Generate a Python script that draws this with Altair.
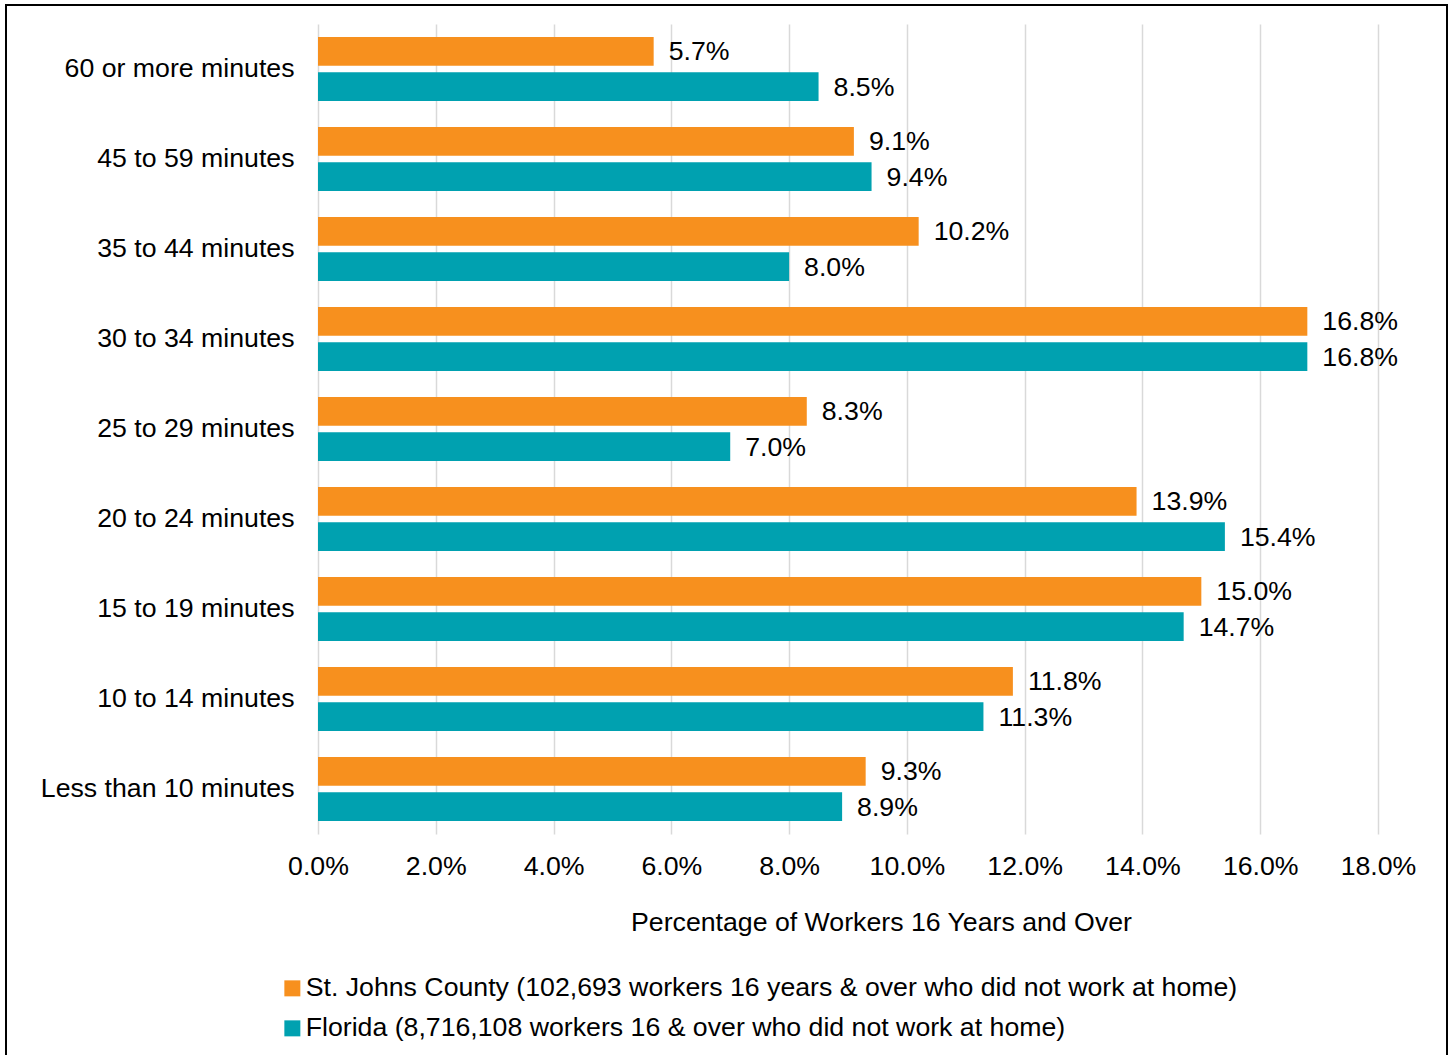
import altair as alt
import pandas as pd

categories = ["60 or more minutes", "45 to 59 minutes", "35 to 44 minutes",
              "30 to 34 minutes", "25 to 29 minutes", "20 to 24 minutes",
              "15 to 19 minutes", "10 to 14 minutes", "Less than 10 minutes"]
series_names = ["St. Johns County (102,693 workers 16 years & over who did not work at home)",
                "Florida (8,716,108 workers 16 & over who did not work at home)"]
st_johns = [5.7, 9.1, 10.2, 16.8, 8.3, 13.9, 15.0, 11.8, 9.3]
florida = [8.5, 9.4, 8.0, 16.8, 7.0, 15.4, 14.7, 11.3, 8.9]
colors = ["#F7901E", "#00A1B0"]

rows = []
for i, c in enumerate(categories):
    rows.append({"cat": c, "series": series_names[0], "val": st_johns[i], "ord": 0})
    rows.append({"cat": c, "series": series_names[1], "val": florida[i], "ord": 1})
df = pd.DataFrame(rows)
df["label"] = df["val"].map(lambda v: f"{v:.1f}%")

FONT = "Liberation Sans"
FS = 26.7

y_enc = alt.Y("cat:N", sort=categories, title=None,
              scale=alt.Scale(paddingInner=0.29, paddingOuter=0.145),
              axis=alt.Axis(ticks=False, domain=False, labelFontSize=FS,
                            labelColor="#000000", labelPadding=24, labelFont=FONT,
                            labelLimit=400))
yoff = alt.YOffset("ord:O", scale=alt.Scale(paddingInner=0.18))
color_enc = alt.Color("series:N", sort=series_names,
                      scale=alt.Scale(domain=series_names, range=colors),
                      legend=alt.Legend(title=None, orient="none", legendX=-39, legendY=951,
                                        direction="vertical", symbolType="square",
                                        symbolSize=256, symbolStrokeWidth=0,
                                        labelFontSize=FS, labelFont=FONT, labelColor="#000000",
                                        labelOffset=0, rowPadding=12, padding=0,
                                        labelLimit=1200))

x_enc = alt.X("val:Q", title="Percentage of Workers 16 Years and Over",
              scale=alt.Scale(domain=[0, 18], nice=False),
              axis=alt.Axis(values=[0, 2, 4, 6, 8, 10, 12, 14, 16, 18],
                            labelExpr="format(datum.value, '.1f') + '%'",
                            ticks=False, domain=False, grid=True,
                            labelFlush=False, labelOverlap=False,
                            gridColor="#D9D9D9", gridWidth=1.5,
                            labelFontSize=FS, labelFont=FONT, labelColor="#000000",
                            labelPadding=19, titleFontSize=FS, titleFont=FONT,
                            titleFontWeight="normal", titleColor="#000000",
                            titlePadding=30, titleX=563, titleAlign="center"))

bars = alt.Chart(df).mark_bar().encode(
    y=y_enc, yOffset=yoff, x=x_enc, color=color_enc,
    order=alt.Order("ord:O"))

texts = alt.Chart(df).mark_text(align="left", baseline="middle", dx=15, dy=1,
                                fontSize=FS, font=FONT, color="#000000").encode(
    y=alt.Y("cat:N", sort=categories), yOffset=yoff, x=alt.X("val:Q"), text="label:N")

frame = alt.Chart(pd.DataFrame({"a": [0]})).mark_rect(
    fill=None, stroke="#000000", strokeWidth=2, clip=False).encode(
    x=alt.value(-312), x2=alt.value(1129), y=alt.value(-19), y2=alt.value(1045))

chart = alt.layer(bars, texts, frame).properties(
    width=1060, height=810,
    padding={"left": 318, "top": 24, "right": 75, "bottom": 221},
    autosize=alt.AutoSizeParams(type="none"),
    background="#FFFFFF"
).configure_view(stroke=None)

chart.save("out.html", embed_options={"renderer": "svg", "actions": False})
